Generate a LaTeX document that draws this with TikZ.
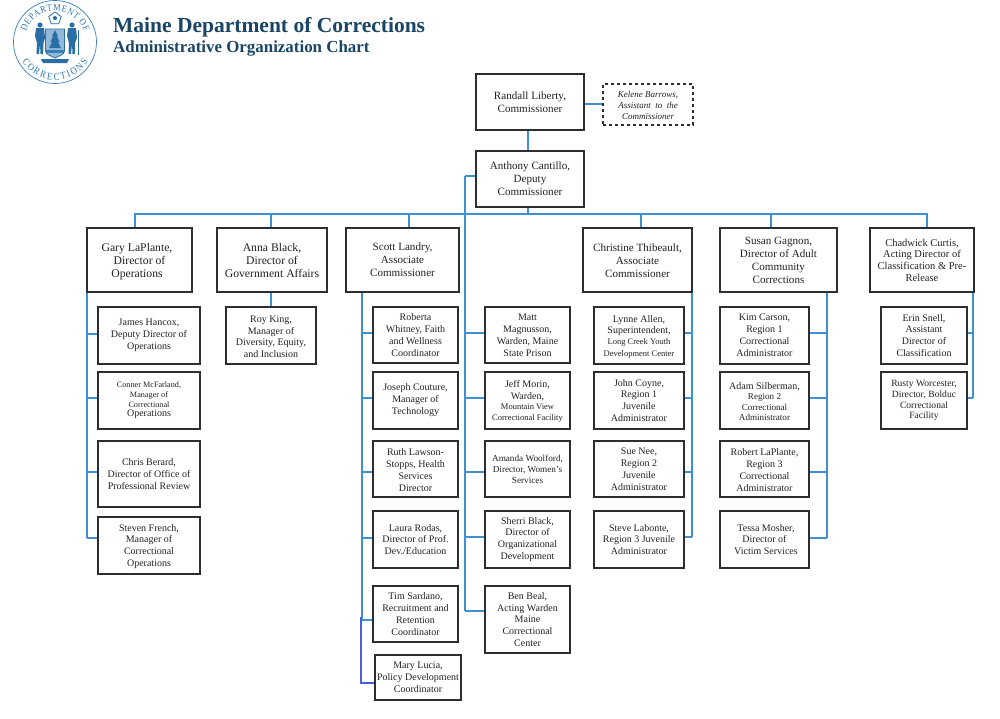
\documentclass[tikz,border=0pt]{standalone}
\usepackage{fontspec}
\setmainfont{Liberation Serif}
\newfontfamily\sealfam[FakeStretch=0.88]{Liberation Serif}
\usetikzlibrary{backgrounds,decorations.text,shapes.geometric}
\definecolor{linkblue}{HTML}{3F8FD2}
\definecolor{indigolink}{HTML}{4A5FE0}
\definecolor{titleblue}{HTML}{1B4564}
\definecolor{sealblue}{HTML}{3A80B8}
\definecolor{sealtext}{HTML}{2F78B2}
\definecolor{sealdark}{HTML}{2A6EA6}
\definecolor{boxedge}{HTML}{2E2E2E}
\definecolor{boxtext}{HTML}{222222}
\newcommand{\szL}{\fontsize{11.1}{13}\selectfont}
\newcommand{\szG}{\fontsize{11.7}{13}\selectfont}
\newcommand{\szM}{\fontsize{10}{11.9}\selectfont}
\newcommand{\szC}{\fontsize{10.5}{11.7}\selectfont}
\newcommand{\szN}{\fontsize{9.6}{10.8}\selectfont}
\newcommand{\szA}{\fontsize{9.2}{10.8}\selectfont}
\newcommand{\szR}{\fontsize{9.1}{10.5}\selectfont}
\newcommand{\szS}{\fontsize{8.5}{9.6}\selectfont}
\newcommand{\szT}{\fontsize{8.2}{9.8}\selectfont}
\newcommand{\sealfontA}{\sealfam\fontsize{9.6}{9.6}\selectfont\color{sealtext}}
\newcommand{\sealfontB}{\sealfam\fontsize{10}{10}\selectfont\color{sealtext}}
% a strut on a first line moves the block of text down inside its box
\newcommand{\nudge}[1]{\rule{0pt}{#1pt}}
\tikzset{
  orgbox/.style={draw=boxedge,line width=1.2pt,fill=white,text=boxtext,align=center,inner sep=0pt,font=\szM},
  linkline/.style={draw=linkblue,line width=1.4pt},
  linkthick/.style={draw=linkblue,line width=2pt},
  indigoline/.style={draw=indigolink,line width=1.2pt},
}
\newcommand{\bx}[7][]{%
  \node[orgbox,minimum width={#4-#2},minimum height={#5-#3},#1] (#6) at ({(#2+#4)/2},{(#3+#5)/2}) {#7};}
% tap: junction on a spine and a stub to a box
\newcommand{\tapL}[3]{\coordinate (t#2) at (#1 |- 0,#3); \draw[linkline] (t#2) -- (#2.west |- t#2);}
\newcommand{\tapR}[3]{\coordinate (t#2) at (#1 |- 0,#3); \draw[linkline] (t#2) -- (#2.east |- t#2);}
\begin{document}
\begin{tikzpicture}[x=1pt,y=-1pt]
\useasboundingbox (0,0) rectangle (1000,718);

% seal
\begin{scope}[shift={(55,42)},y=1pt]
  \draw[sealblue,line width=0.7pt] (0,0) circle[radius=41.5];
  \path[decorate,decoration={text along path,text align=fit to path,
    text={|\sealfontA|DEPARTMENT OF}}]
    (-29.1,10.6) arc[start angle=160,end angle=20,radius=31];
  \path[decorate,decoration={text along path,text align=fit to path,
    text={|\sealfontB|CORRECTIONS}}]
    (-32.9,-19) arc[start angle=210,end angle=330,radius=38];
  % crest
  \node[regular polygon,regular polygon sides=5,draw=sealdark,line width=0.8pt,fill=white,minimum size=13pt,inner sep=0pt] (crest) at (0,23.5) {};
  \node[star,star points=5,fill=sealdark,minimum size=5pt,inner sep=0pt] (creststar) at (0,24) {};
  % shield
  \fill[sealblue!55] (-9.5,13) -- (9.5,13) -- (9.5,-9) .. controls (9.5,-13) and (3,-14) .. (0,-16) .. controls (-3,-14) and (-9.5,-13) .. (-9.5,-9) -- cycle;
  \draw[sealdark,line width=0.8pt] (-9.5,13) -- (9.5,13) -- (9.5,-9) .. controls (9.5,-13) and (3,-14) .. (0,-16) .. controls (-3,-14) and (-9.5,-13) .. (-9.5,-9) -- cycle;
  \fill[sealdark] (0,12) -- (3,6) -- (1.8,6) -- (4.5,0) -- (2.8,0) -- (6,-6) -- (-6,-6) -- (-2.8,0) -- (-4.5,0) -- (-1.8,6) -- (-3,6) -- cycle;
  \fill[sealblue] (-9,-8) rectangle (9,-10.5);
  % left figure
  \fill[sealdark] (-15,17) circle[radius=2.6];
  \fill[sealdark] (-19,14) -- (-11,14) -- (-10,4) -- (-11.5,-1) -- (-12,-12) -- (-14.5,-12) -- (-15,-2) -- (-16,-12) -- (-18.5,-12) -- (-18,-1) -- (-20,6) -- cycle;
  % right figure
  \fill[sealdark] (17,17) circle[radius=2.6];
  \fill[sealdark] (13,14) -- (21,14) -- (22,4) -- (20,-1) -- (20,-12) -- (17.5,-12) -- (17,-2) -- (16,-12) -- (13.5,-12) -- (14,-1) -- (12,6) -- cycle;
  \draw[sealdark,line width=0.8pt] (23,12) -- (23,-13);
  % ribbon
  \fill[sealdark] (-14,-17) -- (14,-17) -- (12,-21) -- (-12,-21) -- cycle;
\end{scope}

% titles
\node[anchor=base west,inner sep=0pt,text=titleblue,font=\fontsize{21.5}{24}\selectfont\bfseries] (title) at (113,32.5) {Maine Department of Corrections};
\node[anchor=base west,inner sep=0pt,text=titleblue,font=\fontsize{16.9}{18}\selectfont\bfseries] (subtitle) at (113,52) {Administrative Organization Chart};

% top
\bx[font=\szL]{476}{74}{584}{130}{commissioner}{Randall Liberty,\\Commissioner}
\bx[dashed,line width=1.1pt,font=\fontsize{9}{10.7}\selectfont\itshape]{603}{84}{693}{125}{kelene}{\nudge{8}Kelene Barrows,\\Assistant\ \ to\ \ the\\Commissioner}
\bx[font=\szL]{476}{151}{584}{207}{deputy}{Anthony Cantillo,\\Deputy\\Commissioner}

% directors
\bx[font=\szG]{87}{228}{192}{292}{gary}{\nudge{12}Gary LaPlante,\hspace*{5pt}\\Director of\hspace*{5pt}\\Operations\hspace*{5pt}}
\bx[font=\szG]{217}{228}{327}{292}{anna}{\nudge{10}Anna Black,\\Director of\\Government Affairs}
\bx[font=\szL]{346}{228}{459}{292}{scott}{Scott Landry,\\Associate\\Commissioner}
\bx[font=\szL]{583}{228}{692}{292}{christine}{\nudge{10}Christine Thibeault,\\Associate\\Commissioner}
\bx[font=\szL]{720}{228}{837}{292}{susan}{Susan Gagnon,\\Director of Adult\\Community\\Corrections}
\bx[font=\szC]{870}{228}{974}{292}{chadwick}{Chadwick Curtis,\\Acting Director of\\Classification \& Pre-\\Release}

% Gary column
\bx{98}{307}{200}{364}{james}{James Hancox,\\Deputy Director of\\Operations}
\bx[font=\szT]{98}{372}{200}{429}{conner}{Conner McFarland,\\Manager of\\Correctional\\\szM Operations}
\bx{98}{441}{200}{507}{chris}{Chris Berard,\\Director of Office of\\Professional Review}
\bx{98}{517}{200}{574}{steven}{\nudge{9}Steven French,\\Manager of\\Correctional\\Operations}
% Anna column
\bx{226}{307}{316}{364}{roy}{\nudge{9}Roy King,\\Manager of\\Diversity, Equity,\\and Inclusion}
% Scott column
\bx{373}{307}{458}{363}{roberta}{Roberta\\Whitney, Faith\\and Wellness\\Coordinator}
\bx{373}{372}{458}{429}{joseph}{Joseph Couture,\\Manager of\\Technology}
\bx{373}{441}{458}{497}{ruth}{\nudge{9}Ruth Lawson-\\Stopps, Health\\Services\\Director}
\bx{373}{511}{458}{568}{laura}{Laura Rodas,\\Director of Prof.\\Dev./Education}
\bx{373}{586}{458}{642}{tim}{Tim Sardano,\\Recruitment and\\Retention\\Coordinator}
\bx{375}{655}{461}{700}{mary}{Mary Lucia,\\Policy Development\\Coordinator}
% Deputy column
\bx{485}{307}{570}{363}{matt}{Matt\\Magnusson,\\Warden, Maine\\State Prison}
\bx{485}{372}{570}{429}{jeff}{\nudge{9}Jeff Morin,\\Warden,\\[-2pt]\szS Mountain View\\\szS Correctional Facility}
\bx[font=\szA]{485}{441}{570}{497}{amanda}{Amanda Woolford,\\Director, Women's\\Services}
\bx{485}{511}{570}{568}{sherri}{Sherri Black,\\Director of\\Organizational\\Development}
\bx{485}{586}{570}{653}{ben}{Ben Beal,\\Acting Warden\\Maine\\Correctional\\Center}
% Christine column
\bx{594}{307}{684}{364}{lynne}{\nudge{9}Lynne Allen,\\Superintendent,\\[-1.5pt]\szS Long Creek Youth\\\szS Development Center}
\bx{594}{372}{684}{429}{john}{John Coyne,\\Region 1\\Juvenile\\Administrator}
\bx{594}{441}{684}{497}{sue}{Sue Nee,\\Region 2\\Juvenile\\Administrator}
\bx{594}{511}{684}{568}{steve}{Steve Labonte,\\Region 3 Juvenile\\Administrator}
% Susan column
\bx{720}{307}{809}{364}{kim}{Kim Carson,\\Region 1\\Correctional\\Administrator}
\bx[font=\szR]{720}{372}{809}{429}{adam}{\szM\nudge{9}Adam Silberman,\\Region 2\\Correctional\\Administrator}
\bx{720}{441}{809}{497}{robert}{\nudge{9}Robert LaPlante,\\Region 3\\Correctional\\Administrator}
\bx{720}{511}{809}{568}{tessa}{Tessa Mosher,\hspace*{-3pt}\\Director of\hspace*{-3pt}\\Victim Services\hspace*{-3pt}}
% Chadwick column
\bx{881}{307}{967}{364}{erin}{Erin Snell,\\Assistant\\Director of\\Classification}
\bx[font=\szN]{881}{372}{967}{429}{rusty}{Rusty Worcester,\\Director, Bolduc\\Correctional\\Facility}

\begin{scope}[on background layer]
  \fill[white] (0,0) rectangle (1000,718);
  % top connectors
  \coordinate (cx) at (528,0);
  \draw[linkline] (cx |- commissioner.south) -- (cx |- deputy.north);
  \coordinate (ky) at (0,104);
  \draw[linkline] (commissioner.east |- ky) -- (kelene.west |- ky);
  % bus
  \coordinate (bus) at (0,214);
  \coordinate (bgary) at (135,0);
  \coordinate (banna) at (271,0);
  \coordinate (bscott) at (409,0);
  \coordinate (bchristine) at (641,0);
  \coordinate (bsusan) at (771,0);
  \coordinate (bchadwick) at (927,0);
  \draw[linkline] (bgary |- gary.north) -- (bgary |- bus) -- (bchadwick |- bus) -- (bchadwick |- chadwick.north);
  \draw[linkline] (cx |- deputy.south) -- (cx |- bus);
  \draw[linkthick] (banna |- bus) -- (banna |- anna.north);
  \draw[linkline] (bscott |- bus) -- (bscott |- scott.north);
  \draw[linkthick] (bchristine |- bus) -- (bchristine |- christine.north);
  \draw[linkline] (bsusan |- bus) -- (bsusan |- susan.north);
  \draw[linkthick] (anna.south -| banna) -- (roy.north -| banna);
  % Gary spine
  \coordinate (sgary) at (87,0);
  \tapL{sgary}{james}{334}\tapL{sgary}{conner}{398}\tapL{sgary}{chris}{472}\tapL{sgary}{steven}{538}
  \draw[linkline] (sgary |- gary.south) -- (tsteven);
  % Scott spine
  \coordinate (sscott) at (362,0);
  \tapL{sscott}{roberta}{333}\tapL{sscott}{joseph}{398}\tapL{sscott}{ruth}{472}\tapL{sscott}{laura}{538}\tapL{sscott}{tim}{620}
  \draw[linkline] (sscott |- scott.south) -- (ttim);
  \coordinate (mj) at (361,683);
  \coordinate (mtop) at (361,617);
  \draw[indigoline] (mtop) -- (mj) -- (mary.west |- mj);
  % Deputy spine
  \coordinate (sdep) at (465,0);
  \coordinate (dy) at (0,176);
  \draw[linkline] (deputy.west |- dy) -- (sdep |- dy);
  \tapL{sdep}{matt}{333}\tapL{sdep}{jeff}{398}\tapL{sdep}{amanda}{472}\tapL{sdep}{sherri}{537}\tapL{sdep}{ben}{611}
  \draw[linkline] (sdep |- dy) -- (tben);
  % Christine spine
  \coordinate (schr) at (692,0);
  \tapR{schr}{lynne}{333}\tapR{schr}{john}{398}\tapR{schr}{sue}{472}\tapR{schr}{steve}{537}
  \draw[linkline] (schr |- christine.south) -- (tsteve);
  % Susan spine
  \coordinate (ssus) at (826.5,0);
  \tapR{ssus}{kim}{333}\tapR{ssus}{adam}{398}\tapR{ssus}{robert}{472}\tapR{ssus}{tessa}{538}
  \draw[linkthick] (ssus |- susan.south) -- (ttessa);
  % Chadwick spine
  \coordinate (scha) at (973,0);
  \tapR{scha}{erin}{333}\tapR{scha}{rusty}{398}
  \draw[linkline] (scha |- chadwick.south) -- (trusty);
\end{scope}
\end{tikzpicture}
\end{document}
